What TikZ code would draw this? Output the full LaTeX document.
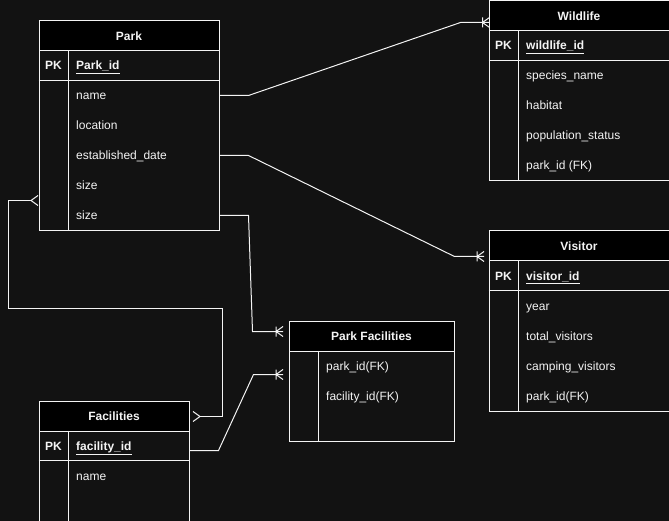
\documentclass[tikz,border=0pt]{standalone}
\usepackage{fontspec}
\setmainfont{Liberation Sans}
\definecolor{canvas}{RGB}{18,18,18}
\definecolor{ink}{RGB}{244,244,244}
\begin{document}
\begin{tikzpicture}[x=1pt,y=-1pt,
  font=\fontsize{12}{14}\selectfont,
  tbl/.style={draw=ink, line width=1pt, fill=canvas, inner sep=0pt, anchor=north west},
  head/.style={draw=ink, line width=1pt, fill=black, inner sep=0pt, anchor=north west,
    text=ink, font=\fontsize{12}{14}\selectfont\bfseries},
  rule/.style={draw=ink, line width=1pt},
  fld/.style={anchor=west, text=ink, inner sep=0pt, text height=9pt, text depth=3pt, yshift=-1.5pt},
  pkfld/.style={fld, font=\fontsize{12}{14}\selectfont\bfseries},
  pk/.style={fld, anchor=center, font=\fontsize{12}{14}\selectfont\bfseries},
  wire/.style={draw=ink, line width=1pt, line join=miter},
  oneormany/.pic={\draw[wire] (0,-5) -- (0,5) (0,0) -- (7,-5) (0,0) -- (7,5);},
  manyfoot/.pic={\draw[wire] (0,0) -- (7,-5) (0,0) -- (7,5);}
]
% canvas
\fill[canvas] (0,0) rectangle (669,521);
\useasboundingbox (0,0) rectangle (669,521);
\clip (0,0) rectangle (669,521);

% ---------- Park ----------
\node[tbl, minimum width=180pt, minimum height=210pt] (park) at (38.5,20.5) {};
\node[head, minimum width=180pt, minimum height=30pt] (parkhead) at (38.5,20.5) {Park};
\draw[rule] (38.5,80.5) -- (218.5,80.5);
\draw[rule] (68.5,50.5) -- (68.5,230.5);
\node[pk] (parkpk) at (53.5,65.5) {PK};
\node[pkfld] (parkid) at (76,65.5) {\underline{Park\_id}};
\node[fld] (pname) at (76,95.5) {name};
\node[fld] (ploc) at (76,125.5) {location};
\node[fld] (pest) at (76,155.5) {established\_date};
\node[fld] (psize) at (76,185.5) {size};
\node[fld] (psize2) at (76,215.5) {size};

% ---------- Wildlife ----------
\node[tbl, minimum width=180pt, minimum height=180pt] (wild) at (488.5,0.5) {};
\node[head, minimum width=180pt, minimum height=30pt] (wildhead) at (488.5,0.5) {Wildlife};
\draw[rule] (488.5,60.5) -- (668.5,60.5);
\draw[rule] (518.5,30.5) -- (518.5,180.5);
\node[pk] (wildpk) at (503.5,45.5) {PK};
\node[pkfld] (wid) at (526,45.5) {\underline{wildlife\_id}};
\node[fld] (wspec) at (526,75.5) {species\_name};
\node[fld] (whab) at (526,105.5) {habitat};
\node[fld] (wpop) at (526,135.5) {population\_status};
\node[fld] (wpark) at (526,165.5) {park\_id (FK)};

% ---------- Visitor ----------
\node[tbl, minimum width=180pt, minimum height=180pt] (visit) at (488.5,230.5) {};
\node[head, minimum width=180pt, minimum height=30pt] (visithead) at (488.5,230.5) {Visitor};
\draw[rule] (488.5,290.5) -- (668.5,290.5);
\draw[rule] (518.5,260.5) -- (518.5,410.5);
\node[pk] (visitpk) at (503.5,275.5) {PK};
\node[pkfld] (vid) at (526,275.5) {\underline{visitor\_id}};
\node[fld] (vyear) at (526,305.5) {year};
\node[fld] (vtotal) at (526,335.5) {total\_visitors};
\node[fld] (vcamp) at (526,365.5) {camping\_visitors};
\node[fld] (vpark) at (526,395.5) {park\_id(FK)};

% ---------- Park Facilities ----------
\node[tbl, minimum width=165pt, minimum height=120pt] (pf) at (288.5,320.5) {};
\node[head, minimum width=165pt, minimum height=30pt] (pfhead) at (288.5,320.5) {Park Facilities};
\draw[rule] (318.5,350.5) -- (318.5,440.5);
\node[fld] (pfpark) at (326,365.5) {park\_id(FK)};
\node[fld] (pffac) at (326,395.5) {facility\_id(FK)};

% ---------- Facilities ----------
\node[tbl, minimum width=150pt, minimum height=160pt] (fac) at (38.5,400.5) {};
\node[head, minimum width=150pt, minimum height=30pt] (fachead) at (38.5,400.5) {Facilities};
\draw[rule] (38.5,460.5) -- (188.5,460.5);
\draw[rule] (68.5,430.5) -- (68.5,560);
\node[pk] (facpk) at (53.5,445.5) {PK};
\node[pkfld] (fid) at (76,445.5) {\underline{facility\_id}};
\node[fld] (fname) at (76,475.5) {name};

% ---------- relationships ----------
% Park -- Wildlife
\coordinate (w1) at (248.5,95.5);
\coordinate (w2) at (460.5,22.5);
\coordinate (wend) at (489,22.5);
\draw[wire] (park.east |- 0,95.5) -- (w1) -- (w2) -- (wend);
\pic at (482.5,22.5) {oneormany};

% Park -- Visitor
\coordinate (v1) at (248.5,155.5);
\coordinate (v2) at (454.5,256.5);
\coordinate (vend) at (484,256.5);
\draw[wire] (park.east |- v1) -- (v1) -- (v2) -- (vend);
\pic at (477,256.5) {oneormany};

% Park -- Park Facilities
\coordinate (p1) at (248.5,215.5);
\coordinate (p2) at (252.5,331.5);
\coordinate (pend) at (283,331.5);
\draw[wire] (park.east |- p1) -- (p1) -- (p2) -- (pend);
\pic at (276,331.5) {oneormany};

% Park -- Facilities
\coordinate (f0) at (31,200.5);
\coordinate (f1) at (8.5,200.5);
\coordinate (f2) at (8.5,308.5);
\coordinate (f3) at (222.5,308.5);
\coordinate (f4) at (222.5,416.5);
\coordinate (f5) at (200,416.5);
\draw[wire] (f0) -- (f1) -- (f2) -- (f3) -- (f4) -- (f5);
\pic at (f0) {manyfoot};
\pic[rotate=180] at (f5) {manyfoot};

% Facilities -- Park Facilities
\coordinate (g1) at (218.5,450.5);
\coordinate (g2) at (253.5,374.5);
\coordinate (gend) at (283,374.5);
\draw[wire] (fac.east |- g1) -- (g1) -- (g2) -- (gend);
\pic at (276,374.5) {oneormany};
\end{tikzpicture}
\end{document}
